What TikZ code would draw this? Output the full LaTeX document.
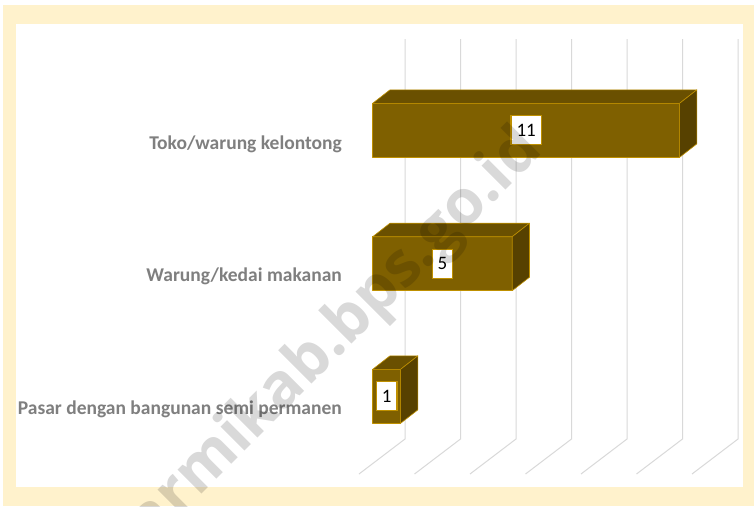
\documentclass[tikz,border=0pt]{standalone}
\usepackage{fontspec}
\setmainfont{Carlito}
\newfontfamily\wmfont{Open Sans}
\definecolor{cream}{HTML}{FFF2CC}
\definecolor{barfront}{HTML}{7F6000}
\definecolor{bartop}{HTML}{6A5000}
\definecolor{barside}{HTML}{574100}
\definecolor{barline}{HTML}{BF9000}
\definecolor{gridc}{HTML}{D9D9D9}
\definecolor{labc}{HTML}{7F7F7F}
\tikzset{
  gridline/.style={draw=gridc, line width=1pt},
  frontface/.style={fill=barfront, draw=barline, line width=0.6pt, line join=round},
  topface/.style={fill=bartop, draw=barline, line width=0.6pt, line join=round},
  sideface/.style={fill=barside, draw=barline, line width=0.6pt, line join=round},
  vallab/.style={fill=white, draw=barline, line width=1.2pt, inner xsep=5.5pt, inner ysep=0pt,
    minimum height=29pt, font=\fontsize{19}{19}\selectfont, text=black},
  catlab/.style={anchor=base east, text=labc, font=\fontsize{19.5}{20}\selectfont\bfseries, inner sep=0pt},
  watermark/.style={text=black, text opacity=0.15, rotate=45, inner sep=0pt,
    font=\wmfont\bfseries\fontsize{62}{62}\selectfont}
}
\newcommand\drawbar[3]{%
  \pgfmathsetmacro\xr{372.7+27.9*#2}
  \pgfmathsetmacro\yt{#1}
  \pgfmathsetmacro\yb{#1+54}
  \pgfmathsetmacro\yk{#1-13.5}
  \pgfmathsetmacro\ykb{#1+40.5}
  \pgfmathsetmacro\xk{\xr+17.3}
  \path[frontface] (372.7,\yt) rectangle (\xr,\yb);
  \path[topface] (372.7,\yt) -- (390,\yk) -- (\xk,\yk) -- (\xr,\yt) -- cycle;
  \path[sideface] (\xr,\yt) -- (\xk,\yk) -- (\xk,\ykb) -- (\xr,\yb) -- cycle;
  \pgfmathsetmacro\xc{(372.7+\xr)/2}
  \pgfmathsetmacro\yc{#1+27}
  \node[vallab] (#3) at (\xc,\yc) {#2};
}
\begin{document}
\begin{tikzpicture}[x=1pt,y=-1pt]
\useasboundingbox (0,0) rectangle (754,506);
\fill[cream] (3,5) rectangle (754,506);
\fill[white] (16,24) rectangle (743,487);
\foreach \i in {0,...,6}{
  \draw[gridline] ({405+55.5*\i},39) -- ({405+55.5*\i},439) -- ({359+55.5*\i},474);
}
\drawbar{103.3}{11}{v11}
\drawbar{236.7}{5}{v5}
\drawbar{369.3}{1}{v1}
\node[catlab] (c1) at (342,149.3) {Toko/warung kelontong};
\node[catlab] (c2) at (342,281) {Warung/kedai makanan};
\node[catlab] (c3) at (342,414.3) {Pasar dengan bangunan semi permanen};
\begin{scope}
\clip (0,0) rectangle (754,506);
\coordinate (wmdot) at (336,360);
\node[watermark, anchor=base east] (wm1) at (wmdot) {sarmikab};
\node[watermark, anchor=base west] (wm2) at (wmdot) {.bps.go.id};
\end{scope}
\end{tikzpicture}
\end{document}
